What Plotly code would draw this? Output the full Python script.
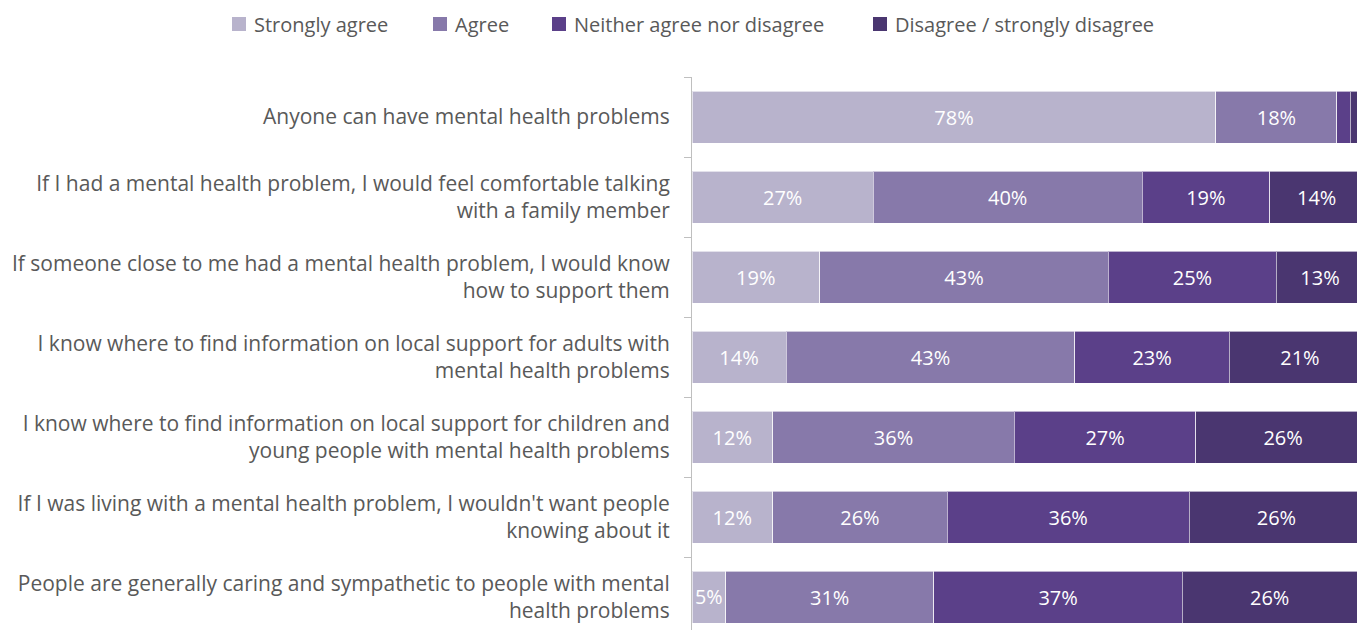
import plotly.graph_objects as go

# Survey statements (top to bottom) and response shares in percent
statements = [
    "Anyone can have mental health problems",
    "If I had a mental health problem, I would feel comfortable talking<br>with a family member",
    "If someone close to me had a mental health problem, I would know<br>how to support them",
    "I know where to find information on local support for adults with<br>mental health problems",
    "I know where to find information on local support for children and<br>young people with mental health problems",
    "If I was living with a mental health problem, I wouldn't want people<br>knowing about it",
    "People are generally caring and sympathetic to people with mental<br>health problems",
]

strongly_agree = [78, 27, 19, 14, 12, 12, 5]
agree = [18, 40, 43, 43, 36, 26, 31]
neither = [2, 19, 25, 23, 27, 36, 37]
disagree = [2, 14, 13, 21, 26, 26, 26]

series_names = [
    "Strongly agree",
    "Agree",
    "Neither agree nor disagree",
    "Disagree / strongly disagree",
]
series_values = [strongly_agree, agree, neither, disagree]
series_colors = ["#b8b3cc", "#8779aa", "#5b4089", "#4a3670"]

# Page geometry (pixels)
W, H = 1357, 630
PLOT_L, PLOT_T = 692, 77
plot_w, plot_h = W - PLOT_L, H - PLOT_T

# Legend layout: left edge of each swatch (px) and vertical centre line
legend_x = [232, 433, 552, 873]
legend_y = 24
swatch = 14
TEXT_GAP = 6


def px_to_paper_x(px):
    return (px - PLOT_L) / plot_w


def py_to_paper_y(py):
    return (H - py) / plot_h


fig = go.Figure()
for name, vals, color in zip(series_names, series_values, series_colors):
    labels = [f"{v}%" if v >= 5 else "" for v in vals]
    fig.add_trace(go.Bar(
        name=name,
        y=statements,
        x=vals,
        orientation="h",
        marker=dict(color=color, line=dict(color="rgba(255,255,255,0.6)", width=1)),
        width=0.65,
        text=labels,
        textposition="inside",
        insidetextanchor="middle",
        textangle=0,
        textfont=dict(family="Open Sans", size=20, color="white"),
        hoverinfo="skip",
        showlegend=False,
    ))

# Legend drawn as swatches plus labels across the top
for name, color, lx in zip(series_names, series_colors, legend_x):
    fig.add_shape(
        type="rect",
        xref="paper", yref="paper",
        x0=px_to_paper_x(lx), x1=px_to_paper_x(lx + swatch),
        y0=py_to_paper_y(legend_y + swatch / 2), y1=py_to_paper_y(legend_y - swatch / 2),
        fillcolor=color, line=dict(width=0),
    )
    fig.add_annotation(
        xref="paper", yref="paper",
        x=px_to_paper_x(lx + swatch + TEXT_GAP), y=py_to_paper_y(legend_y),
        xanchor="left", yanchor="middle",
        text=name, showarrow=False,
        font=dict(family="Open Sans", size=20, color="#595959"),
    )

fig.update_layout(
    barmode="stack",
    width=W,
    height=H,
    margin=dict(l=PLOT_L, r=0, t=PLOT_T, b=0),
    paper_bgcolor="white",
    plot_bgcolor="white",
    showlegend=False,
    xaxis=dict(
        range=[0, 99.0],
        showticklabels=False,
        showgrid=False,
        zeroline=False,
        showline=False,
        ticks="",
    ),
    yaxis=dict(
        categoryorder="array",
        categoryarray=statements,
        range=[6.4125, -0.5],
        tickson="boundaries",
        ticks="outside",
        ticklen=7,
        tickcolor="#bfbfbf",
        showline=True,
        linecolor="#bfbfbf",
        linewidth=1,
        showgrid=False,
        zeroline=False,
        ticklabelstandoff=17,
        tickfont=dict(family="Open Sans", size=21, color="#595959"),
    ),
)

fig.write_html("out.html")
